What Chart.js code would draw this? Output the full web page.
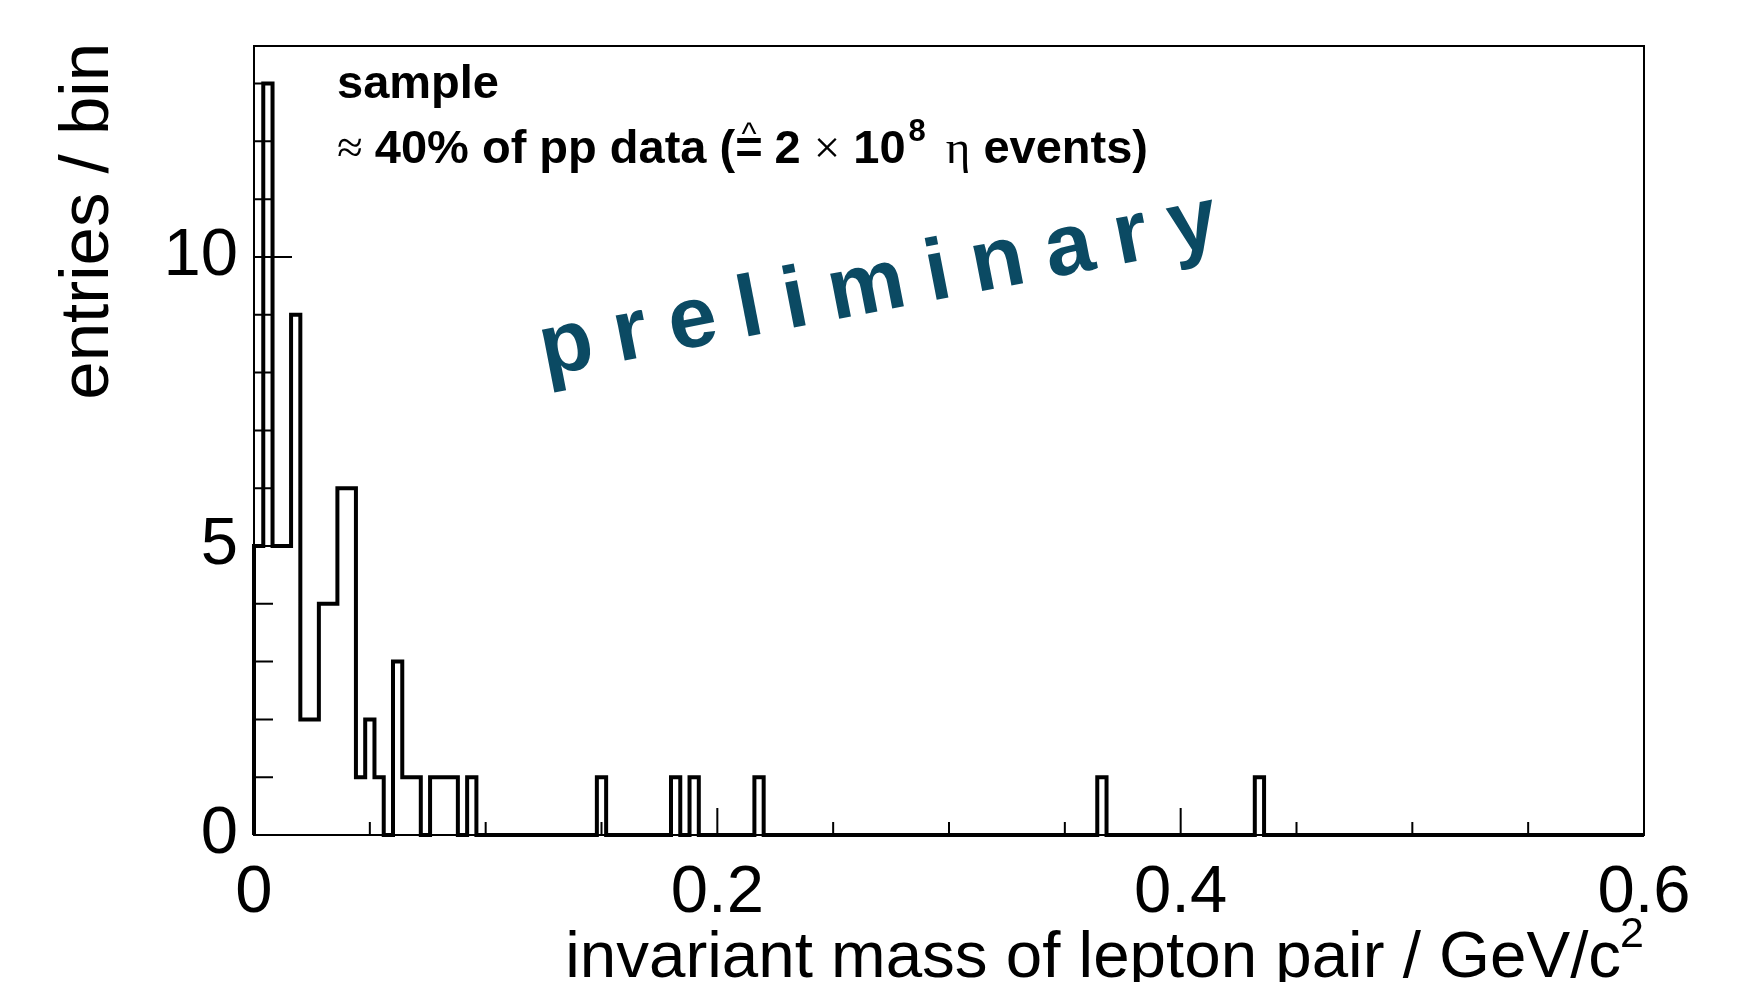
<!DOCTYPE html>
<html lang="en">
<head>
  <meta charset="UTF-8">
  <title>invariant mass of lepton pair</title>
  <script src="https://cdn.jsdelivr.net/npm/chart.js"></script>
  <style>
    html, body {
      margin: 0;
      padding: 0;
      background-color: #fff;
    }
    #massChart {
      display: block;
    }
  </style>
</head>
<body>
  <canvas id="massChart" width="1751" height="982"></canvas>

  <script>
    // histogram of the lepton pair mass, 150 bins of 0.004 GeV/c^2 from 0 to 0.6
    const binWidth = 0.004;
    const counts = [
      5, 13, 5, 5, 9, 2, 2, 4, 4, 6, 6, 1, 2, 1, 0, 3, 1, 1, 0, 1, 1, 1, 0, 1, 0,
      0, 0, 0, 0, 0, 0, 0, 0, 0, 0, 0, 0, 1, 0, 0, 0, 0, 0, 0, 0, 1, 0, 1, 0, 0,
      0, 0, 0, 0, 1, 0, 0, 0, 0, 0, 0, 0, 0, 0, 0, 0, 0, 0, 0, 0, 0, 0, 0, 0, 0,
      0, 0, 0, 0, 0, 0, 0, 0, 0, 0, 0, 0, 0, 0, 0, 0, 1, 0, 0, 0, 0, 0, 0, 0, 0,
      0, 0, 0, 0, 0, 0, 0, 0, 1, 0, 0, 0, 0, 0, 0, 0, 0, 0, 0, 0, 0, 0, 0, 0, 0,
      0, 0, 0, 0, 0, 0, 0, 0, 0, 0, 0, 0, 0, 0, 0, 0, 0, 0, 0, 0, 0, 0, 0, 0, 0
    ];

    // axis ranges and ticks
    const xMin = 0;
    const xMax = 0.6;
    const yMax = 13.65;
    const xLabelTicks = [0, 0.2, 0.4, 0.6];
    const xSmallTicks = [0.05, 0.1, 0.15, 0.25, 0.3, 0.35, 0.45, 0.5, 0.55];
    const yLabelTicks = [0, 5, 10];
    const ySmallTicks = [1, 2, 3, 4, 6, 7, 8, 9, 11, 12, 13];

    const SANS = '"Liberation Sans", Arial, Helvetica, sans-serif';
    const SYMB = '"Liberation Serif", "DejaVu Serif", serif';
    const TEAL = '#0b4a63';

    // left edge of every bin, plus the closing edge at xMax
    const points = [{ x: xMin, y: 0 }];
    counts.forEach((c, i) => points.push({ x: i * binWidth, y: c }));
    points.push({ x: xMax, y: counts[counts.length - 1] });

    // frame and inward ticks, like a ROOT pad
    const framePlugin = {
      id: 'frame',
      beforeDatasetsDraw(chart) {
        const { ctx, chartArea: a, scales: { x, y } } = chart;
        ctx.save();
        ctx.strokeStyle = '#000';
        ctx.lineWidth = 2;
        ctx.strokeRect(a.left, a.top, a.right - a.left, a.bottom - a.top);
        ctx.beginPath();
        yLabelTicks.forEach(v => {
          const py = y.getPixelForValue(v);
          ctx.moveTo(a.left, py); ctx.lineTo(a.left + 38, py);
        });
        ySmallTicks.forEach(v => {
          const py = y.getPixelForValue(v);
          ctx.moveTo(a.left, py); ctx.lineTo(a.left + 19, py);
        });
        xLabelTicks.forEach(v => {
          const px = x.getPixelForValue(v);
          ctx.moveTo(px, a.bottom); ctx.lineTo(px, a.bottom - 27);
        });
        xSmallTicks.forEach(v => {
          const px = x.getPixelForValue(v);
          ctx.moveTo(px, a.bottom); ctx.lineTo(px, a.bottom - 13);
        });
        ctx.stroke();
        ctx.restore();
      },
      afterDraw(chart) {
        const { ctx, chartArea: a } = chart;
        ctx.save();
        ctx.fillStyle = '#000';
        ctx.textBaseline = 'alphabetic';

        // y axis title, right aligned at the top of the axis
        ctx.save();
        ctx.translate(108, a.top - 3);
        ctx.rotate(-Math.PI / 2);
        ctx.font = '69px ' + SANS;
        ctx.textAlign = 'right';
        ctx.fillText('entries / bin', 0, 0);
        ctx.restore();

        // x axis title with superscript, right aligned at the end of the axis
        ctx.textAlign = 'left';
        ctx.font = '43px ' + SANS;
        const supW = ctx.measureText('2').width;
        ctx.fillText('2', a.right - supW, 947);
        ctx.textAlign = 'right';
        ctx.font = '65.5px ' + SANS;
        ctx.fillText('invariant mass of lepton pair / GeV/c', a.right - supW + 1, 977);

        // sample description
        ctx.textAlign = 'left';
        ctx.font = 'bold 47px ' + SANS;
        ctx.fillText('sample', 337, 98);

        let cx = 337;
        const base = 163;
        const put = (txt, font, gap, dy) => {
          ctx.font = font;
          cx += gap || 0;
          ctx.fillText(txt, cx, base + (dy || 0));
          const w = ctx.measureText(txt).width;
          cx += w;
          return w;
        };
        put('\u2248', '47px ' + SYMB);
        put('40% of pp data (', 'bold 47px ' + SANS, 12);
        const eqStart = cx;
        const eqW = put('=', 'bold 47px ' + SANS);
        ctx.font = '32px ' + SANS;
        ctx.textAlign = 'center';
        ctx.fillText('^', eqStart + eqW / 2, base - 19);
        ctx.textAlign = 'left';
        put('2', 'bold 47px ' + SANS, 12);
        put('\u00d7', '47px ' + SYMB, 13);
        put('10', 'bold 47px ' + SANS, 13);
        put('8', 'bold 31px ' + SANS, 3, -22);
        put('\u03b7', '47px ' + SYMB, 20);
        put(' events)', 'bold 47px ' + SANS, 0);

        // preliminary stamp, letters spread along a tilted baseline
        ctx.save();
        ctx.translate(545, 376);
        ctx.rotate(-11 * Math.PI / 180);
        ctx.font = 'bold 87px ' + SANS;
        ctx.fillStyle = TEAL;
        ctx.textAlign = 'left';
        let lx = 0;
        'preliminary'.split('').forEach(ch => {
          ctx.fillText(ch, lx, 0);
          lx += ctx.measureText(ch).width + 22;
        });
        ctx.restore();

        ctx.restore();
      }
    };

    const chart = new Chart(document.getElementById('massChart'), {
      type: 'line',
      data: {
        datasets: [{
          data: points,
          stepped: true,
          borderColor: '#000',
          borderWidth: 4,
          pointRadius: 0,
          fill: false,
          clip: false
        }]
      },
      options: {
        responsive: false,
        animation: false,
        events: [],
        layout: { padding: { top: 46, right: 107, left: 0, bottom: 0 } },
        plugins: {
          legend: { display: false },
          tooltip: { enabled: false }
        },
        scales: {
          x: {
            type: 'linear',
            min: xMin,
            max: xMax,
            grid: { display: false, drawTicks: false },
            border: { display: false },
            afterBuildTicks: s => { s.ticks = xLabelTicks.map(v => ({ value: v })); },
            afterFit: s => {
              s.height = 147;
              s.paddingLeft = 0;
              s.paddingRight = 0;
            },
            ticks: {
              autoSkip: false,
              maxRotation: 0,
              padding: 18,
              color: '#000',
              font: { family: SANS, size: 67 },
              callback: v => String(v)
            }
          },
          y: {
            type: 'linear',
            min: 0,
            max: yMax,
            grid: { display: false, drawTicks: false },
            border: { display: false },
            afterBuildTicks: s => { s.ticks = yLabelTicks.map(v => ({ value: v })); },
            afterFit: s => {
              s.width = 254;
              s.paddingTop = 0;
              s.paddingBottom = 0;
            },
            ticks: {
              padding: 16,
              color: '#000',
              font: { family: SANS, size: 67 },
              callback: v => String(v)
            }
          }
        }
      },
      plugins: [framePlugin]
    });
  </script>
</body>
</html>
